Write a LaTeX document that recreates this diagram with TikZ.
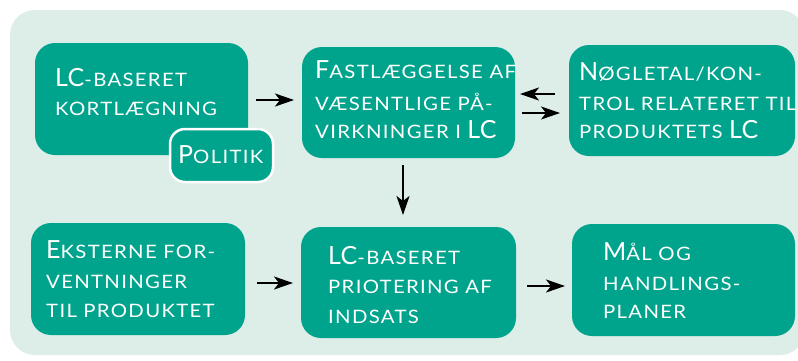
\documentclass[tikz,border=0pt]{standalone}
\usepackage{fontspec}
\usetikzlibrary{arrows.meta,calc}
\newfontfamily\smallfont[LetterSpace=7, FakeStretch=1.1]{Lato}
\newfontfamily\capfont[LetterSpace=2]{Lato}
\definecolor{teal}{RGB}{0,163,140}
\definecolor{mint}{RGB}{221,237,232}
% full capitals and small capitals faked with two sizes
\newcommand\bigc[1]{{\capfont\fontsize{25}{30}\selectfont #1}}
\newcommand\smc[1]{{\smallfont\fontsize{18.5}{30}\selectfont\MakeUppercase{#1}}}
\tikzset{
  box/.style={fill=teal, rounded corners=20pt, inner sep=0pt, outer sep=0pt},
  polbox/.style={fill=teal, draw=white, line width=2.5pt, rounded corners=15pt, inner sep=0pt, outer sep=0pt},
  txt/.style={anchor=base west, inner sep=0pt, text=white},
  arr/.style={draw=black, line width=2.2pt, -{Stealth[length=19pt, width=13pt, inset=5pt]}}
}
\begin{document}
\begin{tikzpicture}[x=1pt,y=-1pt]
\useasboundingbox (0,0) rectangle (798,360);
% panel
\fill[mint, rounded corners=25pt] (10,10) rectangle (805,355);

% boxes
\node[box, minimum width=213pt, minimum height=112pt] (b1) at (141.5,99) {};
\node[box, minimum width=213pt, minimum height=111pt] (b2) at (408.5,102.5) {};
\node[box, minimum width=226pt, minimum height=111pt] (b3) at (682,100.5) {};
\node[box, minimum width=214pt, minimum height=112pt] (b4) at (138,279) {};
\node[box, minimum width=215pt, minimum height=111pt] (b5) at (408.5,282.5) {};
\node[box, minimum width=223pt, minimum height=112pt] (b6) at (683.5,280) {};
\node[polbox, minimum width=103pt, minimum height=53pt] (pol) at (221.5,155.5) {};

% labels
\node[txt] (t1a) at (55,86)  {\bigc{LC}\smc{-baseret}};
\node[txt] (t1b) at (55,115) {\smc{kortlægning}};
\node[txt] (tp)  at (178,163) {\bigc{P}\smc{olitik}};

\node[txt] (t2a) at (315,78)  {\bigc{F}\smc{astlæggelse af}};
\node[txt] (t2b) at (315,110) {\smc{væsentlige på-}};
\node[txt] (t2c) at (315,138) {\smc{virkninger i }\bigc{LC}};

\node[txt] (t3a) at (579,80)  {\bigc{N}\smc{øgletal/kon-}};
\node[txt] (t3b) at (579,110) {\smc{trol relateret til}};
\node[txt] (t3c) at (579,138) {\smc{produktets }\bigc{LC}};

\node[txt] (t4a) at (46,258) {\bigc{E}\smc{ksterne for-}};
\node[txt] (t4b) at (46,288) {\smc{ventninger}};
\node[txt] (t4c) at (46,317) {\smc{til produktet}};

\node[txt] (t5a) at (328,264) {\bigc{LC}\smc{-baseret}};
\node[txt] (t5b) at (328,293) {\smc{priotering af}};
\node[txt] (t5c) at (328,323) {\smc{indsats}};

\node[txt] (t6a) at (603,260) {\bigc{M}\smc{ål og}};
\node[txt] (t6b) at (603,290) {\smc{handlings-}};
\node[txt] (t6c) at (603,318) {\smc{planer}};

% connectors
\draw[arr] ($(b1.east)+(8,1)$) -- ($(b1.east -| b2.west)+(-8,1)$);
\draw[arr] ($(b3.west |- b2.east)+(-14,-8.5)$) -- ($(b2.east)+(5,-8.5)$);
\draw[arr] ($(b2.east)+(7,10.5)$) -- ($(b3.west |- b2.east)+(-9,10.5)$);
\draw[arr] ($(b2.south)+(-5.5,7)$) -- ($(b2.south)+(-5.5,57)$);
\draw[arr] ($(b4.east)+(12,4)$) -- ($(b4.east -| b5.west)+(-8,4)$);
\draw[arr] ($(b5.east)+(11,3.5)$) -- ($(b5.east -| b6.west)+(-7,3.5)$);
\end{tikzpicture}
\end{document}
